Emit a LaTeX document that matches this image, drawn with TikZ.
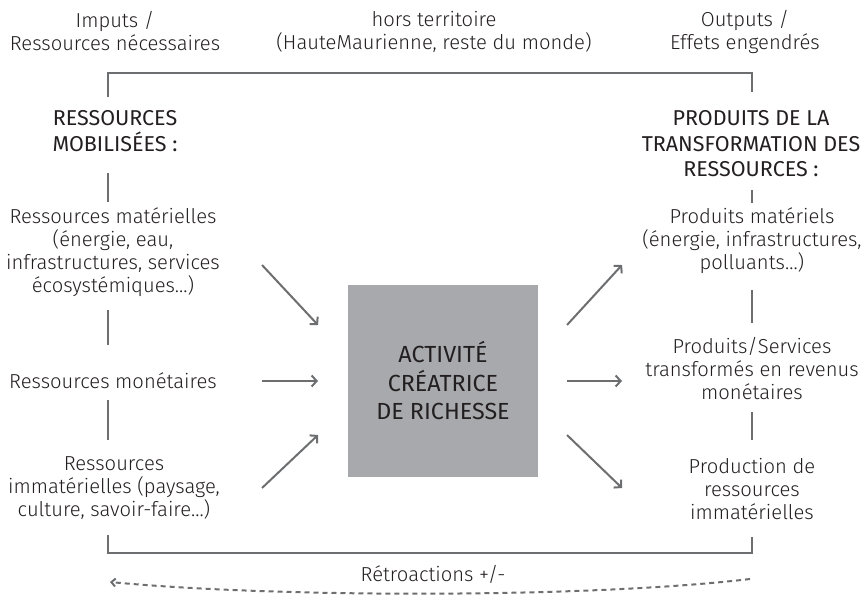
\documentclass[tikz,border=0pt]{standalone}
\usepackage{fontspec}
\setmainfont{Fira Sans Light}
\newfontfamily\headfont{Fira Sans}
\usetikzlibrary{arrows.meta}

\definecolor{ink}{HTML}{231F20}
\definecolor{rulegray}{HTML}{6D6E70}
\definecolor{coregray}{HTML}{A7A9AC}

\tikzset{
  body/.style={align=center, text=ink, inner sep=0pt,
    font=\fontsize{20.2}{23}\selectfont},
  head/.style={align=center, text=ink, inner sep=0pt,
    font=\headfont\fontsize{21.5}{25.5}\selectfont},
  bar/.style={draw=rulegray, line width=2.4pt},
  flow/.style={draw=rulegray, line width=2pt,
    -{Straight Barb[length=5pt,width=11pt,line width=2pt]}},
  loop/.style={draw=rulegray, line width=2pt, dash pattern=on 5pt off 4pt,
    -{Straight Barb[length=4pt,width=8pt,line width=2pt]}},
  corebox/.style={fill=coregray, minimum width=190pt, minimum height=192pt,
    inner sep=0pt, align=center, text=ink,
    font=\headfont\fontsize{23.3}{28.5}\selectfont}
}

\begin{document}
\begin{tikzpicture}[x=1pt,y=-1pt]
\path[use as bounding box] (0,0) rectangle (868,605);

% column titles
\node[body] (inL)  at (115,31.5) {Imputs /\\Ressources nécessaires};
\node[body] (outside) at (434,31.5) {hors territoire\\(HauteMaurienne, reste du monde)};
\node[body] (outR) at (745,31.5) {Outputs /\\Effets engendrés};

% left column: resources
\node[head] (hdrL) at (115,131) {RESSOURCES\\MOBILISÉES :};
\node[body] (matL) at (113,252) {Ressources matérielles\\(énergie, eau,\\infrastructures, services\\écosystémiques…)};
\node[body] (monL) at (113,381) {Ressources monétaires};
\node[body] (immL) at (114,488) {Ressources\\immatérielles (paysage,\\culture, savoir-faire…)};

% right column: products
\node[head] (hdrR) at (751,144) {PRODUITS DE LA\\TRANSFORMATION DES\\RESSOURCES :};
\node[body] (matR) at (752,241) {Produits matériels\\(énergie, infrastructures,\\polluants…)};
\node[body] (monR) at (752,368) {Produits/Services\\transformés en revenus\\monétaires};
\node[body] (immR) at (752,489) {Production de\\ressources\\immatérielles};

% central activity
\node[corebox] (core) at (443,381) {ACTIVITÉ\\CRÉATRICE\\DE RICHESSE};

% feedback label
\node[body] (retro) at (433,574) {Rétroactions +/-};

% bracket framing the two columns
\coordinate (tl) at (108,73);  \coordinate (tr) at (752,73);
\coordinate (bl) at (108,553); \coordinate (br) at (752,553);
\draw[bar] (108,97) -- (tl) -- (tr) -- (752,92);
\draw[bar] (108,535) -- (bl) -- (br) -- (752,537);
\draw[bar] (108,173) -- (108,202);
\draw[bar] (108,310) -- (108,345);
\draw[bar] (108,400) -- (108,440);
\draw[bar] (752,190) -- (752,203);
\draw[bar] (752,290) -- (752,323);
\draw[bar] (752,412) -- (752,440);

% flows into and out of the activity
\coordinate (a1s) at (262,265); \coordinate (a1e) at (318,325);
\coordinate (a2s) at (262,381); \coordinate (a2e) at (318,381);
\coordinate (a3s) at (262,488); \coordinate (a3e) at (318,435);
\coordinate (b1s) at (567,325); \coordinate (b1e) at (622,265);
\coordinate (b2s) at (567,381); \coordinate (b2e) at (622,381);
\coordinate (b3s) at (567,435); \coordinate (b3e) at (622,488);
\draw[flow] (a1s) -- (a1e);
\draw[flow] (a2s) -- (a2e);
\draw[flow] (a3s) -- (a3e);
\draw[flow] (b1s) -- (b1e);
\draw[flow] (b2s) -- (b2e);
\draw[flow] (b3s) -- (b3e);

% feedback loop
\coordinate (fbR) at (750,579);
\coordinate (fbL) at (110,582);
\draw[loop] (fbR) .. controls (590,598) and (280,598) .. (fbL);
\end{tikzpicture}
\end{document}
